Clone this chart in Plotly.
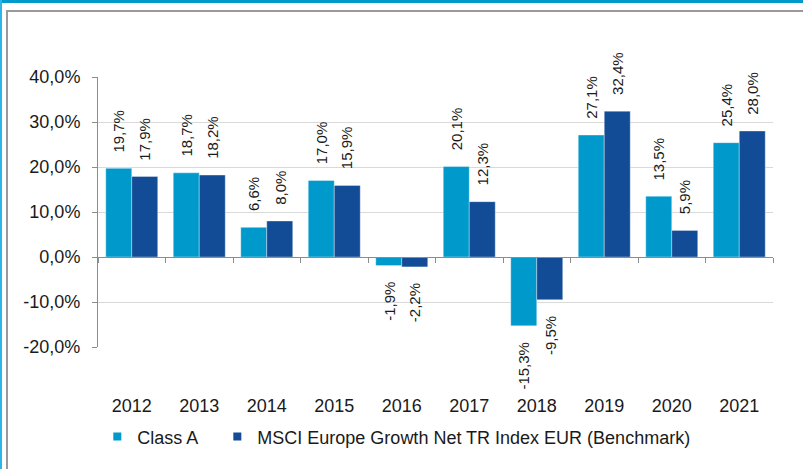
import plotly.graph_objects as go

years = ["2012", "2013", "2014", "2015", "2016", "2017", "2018", "2019", "2020", "2021"]
class_a = [19.7, 18.7, 6.6, 17.0, -1.9, 20.1, -15.3, 27.1, 13.5, 25.4]
benchmark = [17.9, 18.2, 8.0, 15.9, -2.2, 12.3, -9.5, 32.4, 5.9, 28.0]
series_names = ["Class A", "MSCI Europe Growth Net TR Index EUR (Benchmark)"]
series_colors = ["#0099CC", "#124B96"]
legend_widths = [75, None]
y_ticks = [-20, -10, 0, 10, 20, 30, 40]

W, H = 803, 469
L, R, T, B = 98, 30, 77, 122
pw, ph = W - L - R, H - T - B


def px(x):
    return (x - L) / pw


def py(y):
    return (H - B - y) / ph


def fmt(v):
    return f"{v:.1f}".replace(".", ",") + "%"


FONT = "Liberation Sans, Arial, sans-serif"
fig = go.Figure()
for name, vals, col in zip(series_names, [class_a, benchmark], series_colors):
    fig.add_trace(go.Bar(x=years, y=vals, name=name, marker=dict(color=col, line=dict(width=0.6, color="rgba(255,255,255,0.6)")),
                         showlegend=False, hoverinfo="skip"))
for name, col, lw in zip(series_names, series_colors, legend_widths):
    tr = go.Scatter(x=[years[0]], y=[None], mode="markers", name=name, hoverinfo="skip",
                    marker=dict(symbol="square", size=8, color=col))
    if lw:
        tr.legendwidth = lw
    fig.add_trace(tr)

annotations = []
for vals, shift in [(class_a, -13), (benchmark, 13)]:
    for i, v in enumerate(vals):
        annotations.append(dict(
            x=i, y=v, xref="x", yref="y", text=fmt(v), showarrow=False, textangle=-90,
            xshift=shift, yanchor="bottom" if v >= 0 else "top", yshift=14 if v >= 0 else -14,
            font=dict(family=FONT, size=15, color="#1a1a1a")))

fig.update_layout(
    width=W, height=H, margin=dict(l=L, r=R, t=T, b=B, autoexpand=False),
    paper_bgcolor="white", plot_bgcolor="white",
    barmode="group", bargap=0.23, bargroupgap=0,
    font=dict(family=FONT, size=17, color="#1a1a1a"),
    annotations=annotations,
    legend=dict(orientation="h", x=-0.001, y=-0.333, xanchor="left", yanchor="middle",
                font=dict(family=FONT, size=18, color="#1a1a1a"), itemwidth=30, tracegroupgap=0),
    xaxis=dict(type="category", categoryorder="array", categoryarray=years,
               range=[-0.5, len(years) - 0.5], anchor="free", automargin=False,
               position=(0 - y_ticks[0]) / (y_ticks[-1] - y_ticks[0]),
               showline=True, linecolor="#8c8c8c", linewidth=1, ticks="outside", tickson="boundaries",
               ticklen=5, tickcolor="#8c8c8c", showgrid=False, ticklabelstandoff=132, tickangle=0,
               tickfont=dict(size=18)),
    yaxis=dict(range=[y_ticks[0], y_ticks[-1]], tickvals=y_ticks, automargin=False,
               ticktext=[f"{t:.1f}".replace(".", ",") + "%" for t in y_ticks],
               showline=True, linecolor="#8c8c8c", linewidth=1, ticks="outside", ticklen=5,
               tickcolor="#8c8c8c", showgrid=True, gridcolor="#d9d9d9", gridwidth=1, zeroline=False,
               ticklabelstandoff=8, tickfont=dict(size=18)),
    shapes=[
        dict(type="rect", xref="paper", yref="paper", x0=px(0), x1=px(W), y0=py(3), y1=py(0),
             fillcolor="#0099CC", line=dict(width=0), layer="above"),
        dict(type="rect", xref="paper", yref="paper", x0=px(0), x1=px(2), y0=py(H), y1=py(0),
             fillcolor="#2BB5E8", line=dict(width=0), layer="above"),
        dict(type="line", xref="paper", yref="paper", x0=px(7), x1=px(7), y0=py(H), y1=py(11),
             line=dict(color="#999999", width=2)),
        dict(type="line", xref="paper", yref="paper", x0=px(6), x1=px(W), y0=py(11), y1=py(11),
             line=dict(color="#999999", width=2)),
    ],
)
fig.write_html("out.html", post_script="document.body.style.margin='0';",
               config={"displayModeBar": False})
